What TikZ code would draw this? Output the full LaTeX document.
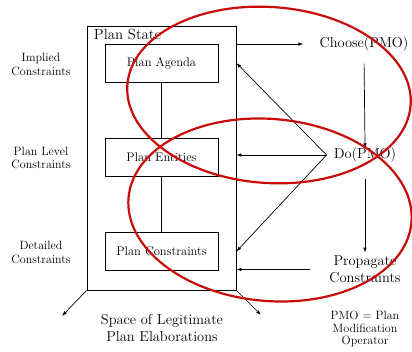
\documentclass[tikz,border=0pt]{standalone}
\usetikzlibrary{arrows.meta}
\definecolor{markred}{RGB}{200,12,12}
\tikzset{
  planbox/.style={draw, line width=.8pt, minimum width=113pt, minimum height=38pt, inner sep=0pt, font=\fontsize{12.5}{14}\selectfont},
  sidetext/.style={align=center, font=\fontsize{12}{13.5}\selectfont},
  optext/.style={align=center, inner sep=3pt, font=\fontsize{14.4}{17}\selectfont},
  markring/.style={draw=markred, line width=2.2pt}
}
\begin{document}
\begin{tikzpicture}[x=1pt,y=-1pt, >={Latex[length=5pt,width=3.5pt]}, line width=.7pt]
\useasboundingbox (0,0) rectangle (412,352);

\node[draw, line width=.8pt, minimum width=149pt, minimum height=264pt, inner sep=0pt] (state) at (161.5,158) {};
\node[anchor=north west, inner xsep=7pt, inner ysep=3pt, font=\fontsize{14.8}{17}\selectfont] (statetitle) at (state.north west) {Plan State};

\foreach \y/\name/\txt in {63/agenda/Plan Agenda,157/entities/Plan Entities,251.5/constraints/Plan Constraints}
\node[planbox] (\name) at (161.5,\y) {\txt};

\draw (agenda) -- (entities);
\draw (entities) -- (constraints);

\foreach \y/\name/\txt in {64.5/implied/Implied\\Constraints,158/level/Plan Level\\Constraints,252.5/detailed/Detailed\\Constraints}
\node[sidetext] (\name) at (41,\y) {\txt};

\node[optext] (choose) at (364,44) {Choose(PMO)};
\node[optext] (do) at (365,155) {Do(PMO)};
\node[optext] (prop) at (365,269.5) {Propagate\\Constraints};
\coordinate (fan) at ([xshift=-4pt]do.west);

\draw[->, shorten >=13pt] (state.east |- choose) -- (choose.west);
\draw[->, shorten <=9pt, shorten >=-4pt] (choose.south) -- (do.north);
\draw[->, shorten <=13pt] (do.south) -- (prop.north);
\draw[->] (fan) -- (state.east |- agenda);
\draw[->] (fan) -- (state.east |- fan);
\draw[->] (fan) -- (state.east |- constraints);
\draw[->, shorten <=16pt] (prop.west) -- (state.east |- prop.west);

\coordinate (outleft) at (62,316);
\coordinate (outright) at (261,315);
\draw[->] (state.south west) -- (outleft);
\draw[->] (state.south east) -- (outright);

\node[align=center, font=\fontsize{14.4}{17}\selectfont] (space) at (162,328.5) {Space of Legitimate\\Plan Elaborations};
\node[align=center, font=\fontsize{12}{12.5}\selectfont] (pmo) at (365,329) {PMO = Plan\\Modification\\Operator};

\draw[markring, rotate around={-4:(269,95)}] (269,95) ellipse (142 and 88);
\draw[markring, rotate around={-5:(270,210)}] (270,210) ellipse (142 and 91);
\end{tikzpicture}
\end{document}
